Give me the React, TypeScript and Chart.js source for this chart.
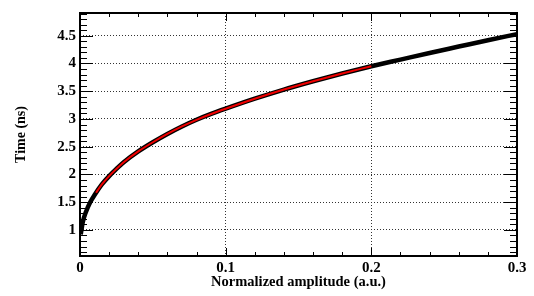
import React, { useEffect, useRef } from "react";
import { Chart, registerables } from "chart.js";

Chart.register(...registerables);

// Measured data (black)
const dataX = [0.0005, 0.002, 0.004, 0.007, 0.01, 0.015, 0.02, 0.025, 0.03, 0.04, 0.05, 0.06, 0.07, 0.08, 0.09, 0.1, 0.12, 0.14, 0.16, 0.18, 0.2, 0.22, 0.24, 0.26, 0.28, 0.3];
const dataY = [0.92, 1.15, 1.32, 1.5, 1.63, 1.82, 1.97, 2.1, 2.22, 2.415, 2.58, 2.73, 2.865, 2.985, 3.09, 3.185, 3.365, 3.53, 3.68, 3.82, 3.95, 4.07, 4.19, 4.305, 4.42, 4.53];
// Fit curve (red)
const fitX = [0.011, 0.015, 0.02, 0.025, 0.03, 0.04, 0.05, 0.06, 0.07, 0.08, 0.09, 0.1, 0.12, 0.14, 0.16, 0.18, 0.2];
const fitY = [1.67, 1.82, 1.97, 2.1, 2.22, 2.415, 2.58, 2.73, 2.865, 2.985, 3.09, 3.185, 3.365, 3.53, 3.68, 3.82, 3.95];

const xTicks = [0, 0.1, 0.2, 0.3];
const yTicks = [1, 1.5, 2, 2.5, 3, 3.5, 4, 4.5];
const xTitle = "Normalized amplitude (a.u.)";
const yTitle = "Time (ns)";

const FONT = "'Liberation Serif', 'Times New Roman', serif";

const framePlugin = {
  id: "rootFrame",
  afterDraw(chart: any) {
    const { ctx, chartArea: a, scales } = chart;
    const xs = scales.x;
    const ys = scales.y;
    ctx.save();
    ctx.strokeStyle = "#000";
    ctx.lineWidth = 1;
    for (let i = 0; i <= 15; i++) {
      const v = i * 0.02;
      const px = Math.round(xs.getPixelForValue(v)) + 0.5;
      const major = i % 5 === 0;
      const len = major ? 8 : 4;
      ctx.beginPath();
      ctx.moveTo(px, a.bottom);
      ctx.lineTo(px, a.bottom - len);
      ctx.moveTo(px, a.top);
      ctx.lineTo(px, a.top + len);
      ctx.stroke();
    }
    for (let i = 6; i <= 49; i++) {
      const v = i * 0.1;
      if (v < ys.min || v > ys.max) continue;
      const py = Math.round(ys.getPixelForValue(v)) + 0.5;
      const major = i % 5 === 0;
      const len = major ? 13 : 7;
      ctx.beginPath();
      ctx.moveTo(a.left, py);
      ctx.lineTo(a.left + len, py);
      ctx.moveTo(a.right, py);
      ctx.lineTo(a.right - len, py);
      ctx.stroke();
    }
    ctx.lineWidth = 2;
    ctx.strokeRect(a.left, a.top, a.right - a.left, a.bottom - a.top);
    ctx.restore();
  },
};

export default function App() {
  const ref = useRef<HTMLCanvasElement | null>(null);
  useEffect(() => {
    if (!ref.current) return;
    const chart = new Chart(ref.current, {
      type: "line",
      data: {
        datasets: [
          {
            label: "fit",
            data: fitX.map((x, i) => ({ x, y: fitY[i] })),
            borderColor: "#f00000",
            borderWidth: 2,
            pointRadius: 0,
            cubicInterpolationMode: "monotone",
            fill: false,
          },
          {
            label: "data",
            data: dataX.map((x, i) => ({ x, y: dataY[i] })),
            borderColor: "#000",
            borderWidth: 4.5,
            pointRadius: 0,
            cubicInterpolationMode: "monotone",
            fill: false,
          },
        ],
      },
      options: {
        animation: false,
        responsive: false,
        layout: { padding: { top: 5, right: 17, left: 0, bottom: 0 } },
        plugins: { legend: { display: false }, tooltip: { enabled: false } },
        scales: {
          x: {
            type: "linear",
            min: 0,
            max: 0.3,
            afterBuildTicks: (s: any) => {
              s.ticks = xTicks.map((v) => ({ value: v }));
            },
            afterFit: (s: any) => {
              s.height = 40;
            },
            border: { display: false, dash: [1, 2] },
            grid: {
              color: "#333",
              lineWidth: 1,
              drawTicks: false,
              tickLength: 0,
            },
            ticks: {
              padding: 3,
              color: "#000",
              maxRotation: 0,
              autoSkip: false,
              font: { family: FONT, size: 15, weight: "bold" },
              callback: (v: any) => String(v),
            },
            title: {
              display: true,
              text: xTitle,
              color: "#000",
              font: { family: FONT, size: 14.5, weight: "bold" },
              padding: { top: 0, bottom: 5 },
            },
          },
          y: {
            type: "linear",
            min: 0.53,
            max: 4.91,
            afterBuildTicks: (s: any) => {
              s.ticks = yTicks.map((v) => ({ value: v }));
            },
            afterFit: (s: any) => {
              s.width = 80;
            },
            border: { display: false, dash: [1, 2] },
            grid: {
              color: "#333",
              lineWidth: 1,
              drawTicks: false,
              tickLength: 0,
            },
            ticks: {
              padding: 4,
              color: "#000",
              autoSkip: false,
              font: { family: FONT, size: 15, weight: "bold" },
              callback: (v: any) => String(v),
            },
            title: {
              display: true,
              text: yTitle,
              color: "#000",
              font: { family: FONT, size: 14, weight: "bold" },
              padding: { top: 13, bottom: 0 },
            },
          },
        },
      } as any,
      plugins: [framePlugin],
    });
    return () => chart.destroy();
  }, []);
  return (
    <div style={{ position: "absolute", left: 0, top: 0, width: 534, height: 296, background: "#fff" }}>
      <canvas ref={ref} width={534} height={296} style={{ display: "block" }} />
    </div>
  );
}
